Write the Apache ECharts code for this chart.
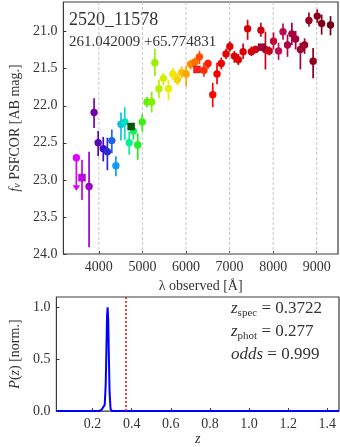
<!DOCTYPE html>
<html>
<head>
<meta charset="utf-8">
<script src="https://cdn.jsdelivr.net/npm/echarts@6/dist/echarts.min.js"></script>
<style>
html, body { margin: 0; padding: 0; background: #ffffff; }
#main { width: 340px; height: 447px; }
</style>
</head>
<body>
<div id="main"></div>
<script>
// photometry (circles)
var lambdaObs = [3776, 3891, 3985, 4102, 4196, 4298, 4392, 4508, 4595, 4697,
	4792, 4893, 4996, 5105, 5213, 5285, 5379, 5481, 5597, 5699,
	5802, 5902, 6004, 6107, 6207, 6309, 6412, 6505, 6614, 6712,
	6810, 6919, 7006, 7109, 7202, 7311, 7414, 7501, 7595, 7719,
	7823, 7910, 8008, 8124, 8226, 8329, 8429, 8516, 8625, 8721,
	8821, 8917, 9011, 9113, 9316];
var magObs = [23.09, 22.09, 22.50, 22.58, 22.62, 22.47, 22.81, 22.25, 22.22, 22.50,
	22.34, 22.53, 22.22, 21.95, 21.95, 21.42, 21.77, 21.63, 21.77, 21.57,
	21.65, 21.55, 21.57, 21.44, 21.41, 21.34, 21.52, 21.43, 21.85, 21.57,
	21.43, 21.30, 21.20, 21.33, 21.38, 21.27, 20.96, 21.27, 21.24, 20.98,
	21.24, 21.26, 21.13, 21.26, 21.00, 21.18, 21.03, 21.10, 21.24, 21.18,
	20.85, 21.40, 20.79, 20.89, 20.91];
var magErrMinus = [0.47, 0.19, 0.16, 0.16, 0.19, 0.15, 0.13, 0.16, 0.20, 0.15,
	0.11, 0.16, 0.11, 0.07, 0.14, 0.19, 0.12, 0.07, 0.12, 0.08,
	0.09, 0.08, 0.11, 0.06, 0.06, 0.08, 0.10, 0.05, 0.16, 0.15,
	0.08, 0.07, 0.07, 0.07, 0.08, 0.11, 0.12, 0.07, 0.05, 0.10,
	0.24, 0.06, 0.12, 0.11, 0.11, 0.14, 0.15, 0.11, 0.09, 0.09,
	0.11, 0.18, 0.09, 0.12, 0.12];
var magErrPlus = [0.82, 0.21, 0.18, 0.17, 0.25, 0.17, 0.14, 0.22, 0.24, 0.16,
	0.12, 0.20, 0.13, 0.07, 0.14, 0.18, 0.13, 0.09, 0.15, 0.08,
	0.07, 0.08, 0.17, 0.07, 0.07, 0.10, 0.09, 0.07, 0.17, 0.14,
	0.08, 0.07, 0.07, 0.09, 0.07, 0.10, 0.15, 0.06, 0.05, 0.09,
	0.27, 0.06, 0.11, 0.12, 0.11, 0.16, 0.15, 0.14, 0.27, 0.12,
	0.08, 0.23, 0.09, 0.15, 0.14];

// broad band points (squares)
var sqLambda = [3614, 4741, 6251, 7732];
var sqMag = [22.97, 22.28, 21.51, 21.21];
var sqErrMinus = [0.24, 0, 0, 0];
var sqErrPlus = [0.30, 0, 0, 0];
var sqColors = ['#c400ee', '#005a00', '#ff1c1c', '#a0003c'];

// upper limit
var limLambda = [3484];
var limMag = [22.70];

var lambdaTicks = [4000, 5000, 6000, 7000, 8000, 9000];
var magTicks = [21.0, 21.5, 22.0, 22.5, 23.0, 23.5, 24.0];

// P(z)
var zGrid = [0.015, 0.230, 0.245, 0.255, 0.262, 0.267, 0.271, 0.274, 0.277, 0.280, 0.283, 0.287, 0.292, 0.300, 1.460];
var pz = [0, 0, 0.01, 0.02, 0.06, 0.25, 0.62, 0.92, 1.00, 0.88, 0.55, 0.18, 0.02, 0, 0];
var zTicks = [0.2, 0.4, 0.6, 0.8, 1.0, 1.2, 1.4];
var pTicks = [0.0, 0.5, 1.0];
var zSpec = 0.3722;
var zPhot = 0.277;
var odds = 0.999;

var objName = '2520_11578';
var objCoords = '261.042009 +65.774831';

var FONT = 'Liberation Serif';
var TXT = '#333333';
var MAG_MIN = 20.6, MAG_MAX = 24.0;

var rainbow = ['#e800ff', '#c400f0', '#7000a8', '#3010d0', '#10a0f8', '#00f0b0', '#20f020',
	'#68f000', '#c0f000', '#f0f000', '#ffc000', '#ff8000', '#ff3000', '#f80000', '#e80000',
	'#e00000', '#d80008', '#d00010', '#c40018', '#c0105a', '#a80040', '#a00030', '#900020',
	'#800018', '#680010'];

var chart = echarts.init(document.getElementById('main'));

function renderGrid(params, api) {
	var x = api.value(0);
	var p1 = api.coord([x, MAG_MIN]);
	var p2 = api.coord([x, MAG_MAX]);
	return {
		type : 'line',
		shape : { x1 : p1[0], y1 : p1[1], x2 : p2[0], y2 : p2[1] },
		style : { stroke : '#b8b8b8', lineWidth : 0.8, lineDash : [ 3, 2 ] }
	};
}

function errPoint(api, color, square) {
	var x = api.value(0), m = api.value(1);
	var p = api.coord([x, m]);
	var top = api.coord([x, m - api.value(2)]);
	var bot = api.coord([x, m + api.value(3)]);
	var kids = [];
	if (bot[1] - top[1] > 0.5) {
		kids.push({
			type : 'line',
			shape : { x1 : p[0], y1 : top[1], x2 : p[0], y2 : bot[1] },
			style : { stroke : color, lineWidth : 1.7 }
		});
	}
	if (square) {
		kids.push({
			type : 'rect',
			shape : { x : p[0] - 3.6, y : p[1] - 3.6, width : 7.2, height : 7.2 },
			style : { fill : color, stroke : 'rgba(0,0,0,0.35)', lineWidth : 0.6 }
		});
	} else {
		kids.push({
			type : 'circle',
			shape : { cx : p[0], cy : p[1], r : 3.7 },
			style : { fill : color }
		});
	}
	return { type : 'group', children : kids };
}

function renderCircle(params, api) {
	return errPoint(api, api.visual('color'), false);
}

function renderSquare(params, api) {
	return errPoint(api, sqColors[params.dataIndex], true);
}

function renderLimit(params, api) {
	var p = api.coord([api.value(0), api.value(1)]);
	var color = api.visual('color');
	var tip = p[1] + 33;
	return {
		type : 'group',
		children : [ {
			type : 'line',
			shape : { x1 : p[0], y1 : p[1], x2 : p[0], y2 : tip - 4 },
			style : { stroke : color, lineWidth : 1.7 }
		}, {
			type : 'polygon',
			shape : { points : [ [ p[0] - 3.8, tip - 5.5 ], [ p[0] + 3.8, tip - 5.5 ], [ p[0], tip ] ] },
			style : { fill : color }
		}, {
			type : 'circle',
			shape : { cx : p[0], cy : p[1], r : 3.7 },
			style : { fill : color }
		} ]
	};
}

function annot(txt) {
	return {
		text : txt,
		fill : TXT,
		rich : {
			i : { fontFamily : FONT, fontSize : 17, fontStyle : 'italic', fill : TXT, lineHeight : 20, verticalAlign : 'middle' },
			n : { fontFamily : FONT, fontSize : 17, fill : TXT, lineHeight : 20, verticalAlign : 'middle' },
			s : { fontFamily : FONT, fontSize : 11, fill : TXT, lineHeight : 12, verticalAlign : 'bottom' }
		}
	};
}

var circleData = [];
for (var i = 0; i < lambdaObs.length; i++) {
	circleData.push([ lambdaObs[i], magObs[i], magErrMinus[i], magErrPlus[i] ]);
}
var squareData = [];
for (var j = 0; j < sqLambda.length; j++) {
	squareData.push([ sqLambda[j], sqMag[j], sqErrMinus[j], sqErrPlus[j] ]);
}
var limitData = [];
for (var k = 0; k < limLambda.length; k++) {
	limitData.push([ limLambda[k], limMag[k] ]);
}
var pzData = [];
for (var n = 0; n < zGrid.length; n++) {
	pzData.push([ zGrid[n], pz[n] ]);
}

var labelBase = { fontFamily : FONT, fontSize : 14, color : TXT };
var tickBase = { show : true, inside : true, length : 3, lineStyle : { color : '#333', width : 1 } };

var option = {
	animation : false,
	backgroundColor : '#ffffff',
	textStyle : { fontFamily : FONT },
	grid : [ {
		left : 49, top : 2, width : 289, height : 252,
		show : true, borderColor : '#3a3a3a', borderWidth : 1.2, backgroundColor : 'transparent'
	}, {
		left : 49, top : 297, width : 290, height : 116,
		show : true, borderColor : '#3a3a3a', borderWidth : 1.2, backgroundColor : 'transparent'
	} ],
	visualMap : [ {
		type : 'continuous',
		show : false,
		dimension : 0,
		seriesIndex : [ 1, 2 ],
		min : 3400,
		max : 9400,
		inRange : { color : rainbow }
	} ],
	xAxis : [ {
		gridIndex : 0,
		type : 'value',
		min : 3187,
		max : 9488,
		name : 'λ observed [Å]',
		nameLocation : 'middle',
		nameGap : 23,
		nameTextStyle : { fontFamily : FONT, fontSize : 14, color : TXT },
		axisLine : { show : false },
		axisTick : Object.assign({ customValues : lambdaTicks }, tickBase),
		axisLabel : Object.assign({ customValues : lambdaTicks, margin : 6,
			formatter : function(v) { return String(v); } }, labelBase),
		splitLine : { show : false }
	}, {
		gridIndex : 1,
		type : 'value',
		min : 0.015,
		max : 1.46,
		name : 'z',
		nameLocation : 'middle',
		nameGap : 19,
		nameTextStyle : { fontFamily : FONT, fontSize : 14, color : TXT, fontStyle : 'italic' },
		axisLine : { show : false },
		axisTick : Object.assign({ customValues : zTicks }, tickBase),
		axisLabel : Object.assign({ customValues : zTicks, margin : 6,
			formatter : function(v) { return v.toFixed(1); } }, labelBase),
		splitLine : { show : false }
	} ],
	yAxis : [ {
		gridIndex : 0,
		type : 'value',
		inverse : true,
		min : MAG_MIN,
		max : MAG_MAX,
		name : '{i|f}{s|ν} PSFCOR [AB mag.]',
		nameLocation : 'middle',
		nameGap : 29,
		nameTextStyle : {
			fontFamily : FONT, fontSize : 14, color : TXT,
			rich : {
				i : { fontFamily : FONT, fontSize : 14, fontStyle : 'italic', color : TXT },
				s : { fontFamily : FONT, fontSize : 10, fontStyle : 'italic', color : TXT, verticalAlign : 'bottom' }
			}
		},
		axisLine : { show : false },
		axisTick : Object.assign({ customValues : magTicks }, tickBase),
		axisLabel : Object.assign({ customValues : magTicks, margin : 6,
			formatter : function(v) { return v.toFixed(1); } }, labelBase),
		splitLine : { show : false }
	}, {
		gridIndex : 1,
		type : 'value',
		min : 0,
		max : 1.1,
		name : '{i|P}({i|z}) [norm.]',
		nameLocation : 'middle',
		nameGap : 29,
		nameTextStyle : {
			fontFamily : FONT, fontSize : 14, color : TXT,
			rich : { i : { fontFamily : FONT, fontSize : 14, fontStyle : 'italic', color : TXT } }
		},
		axisLine : { show : false },
		axisTick : Object.assign({ customValues : pTicks }, tickBase),
		axisLabel : Object.assign({ customValues : pTicks, margin : 6,
			formatter : function(v) { return v.toFixed(1); } }, labelBase),
		splitLine : { show : false }
	} ],
	series : [ {
		type : 'custom',
		xAxisIndex : 0, yAxisIndex : 0,
		silent : true,
		z : 1,
		renderItem : renderGrid,
		encode : { x : 0 },
		data : lambdaTicks.map(function(v) { return [ v ]; })
	}, {
		type : 'custom',
		xAxisIndex : 0, yAxisIndex : 0,
		z : 3,
		renderItem : renderCircle,
		encode : { x : 0, y : 1 },
		data : circleData
	}, {
		type : 'custom',
		xAxisIndex : 0, yAxisIndex : 0,
		z : 3,
		renderItem : renderLimit,
		encode : { x : 0, y : 1 },
		data : limitData
	}, {
		type : 'custom',
		xAxisIndex : 0, yAxisIndex : 0,
		z : 4,
		renderItem : renderSquare,
		encode : { x : 0, y : 1 },
		data : squareData
	}, {
		type : 'line',
		xAxisIndex : 1, yAxisIndex : 1,
		showSymbol : false,
		z : 3,
		lineStyle : { color : '#0000ff', width : 2 },
		data : pzData,
		markLine : {
			silent : true,
			symbol : 'none',
			label : { show : false },
			lineStyle : { color : '#ff0000', type : [ 2, 2 ], width : 1.5 },
			data : [ { xAxis : zSpec } ]
		}
	} ],
	graphic : [ {
		type : 'text', left : 69, top : 11,
		style : { text : objName, font : '18px "' + FONT + '"', fill : TXT }
	}, {
		type : 'text', left : 69, top : 35,
		style : { text : objCoords, font : '15px "' + FONT + '"', fill : TXT }
	}, {
		type : 'text', left : 231, top : 300,
		style : annot('{i|z}{s|spec}{n| = ' + zSpec.toFixed(4) + '}')
	}, {
		type : 'text', left : 231, top : 323,
		style : annot('{i|z}{s|phot}{n| = ' + zPhot.toFixed(3) + '}')
	}, {
		type : 'text', left : 231, top : 346,
		style : annot('{i|odds}{n| = ' + odds.toFixed(3) + '}')
	} ]
};

chart.setOption(option);
</script>
</body>
</html>
